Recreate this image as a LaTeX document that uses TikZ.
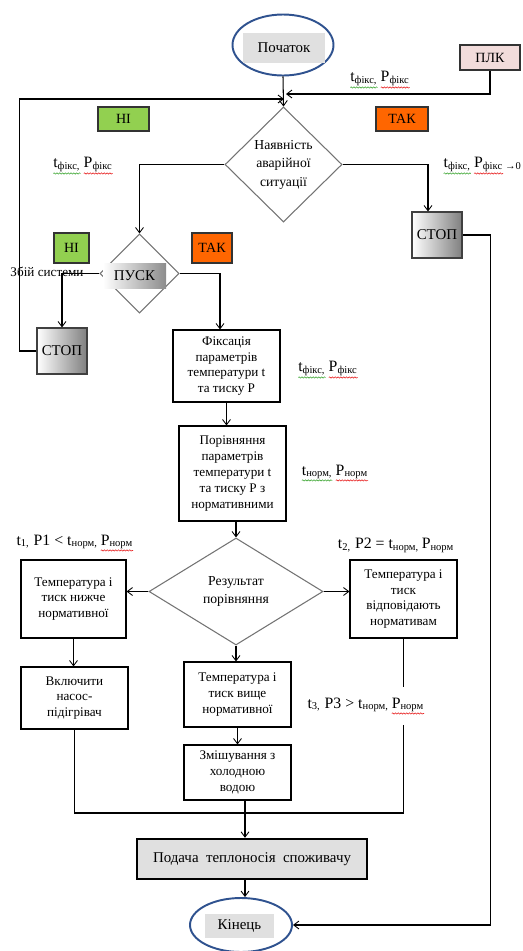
\documentclass[tikz,border=0pt]{standalone}
\usepackage{fontspec}
\setmainfont{Liberation Serif}
\usetikzlibrary{shapes.geometric,arrows.meta,decorations.pathmorphing}
\definecolor{FrameBlue}{RGB}{47,82,143}
\definecolor{NoGreen}{RGB}{146,208,80}
\definecolor{YesOrange}{RGB}{255,102,0}
\definecolor{PlcPink}{RGB}{242,220,219}
\definecolor{SpellRed}{RGB}{232,40,40}
\definecolor{SpellGreen}{RGB}{70,170,60}
\newcommand*{\boxfont}{\fontsize{7.5}{9}\selectfont}
\newcommand*{\bigfont}{\fontsize{7.8}{10.5}\selectfont}
\newcommand*{\termfont}{\fontsize{8.5}{10}\selectfont}
\newcommand*{\labfont}{\fontsize{9}{10}\selectfont}
% wavy underline of the spell checker
\newcommand*{\spell}[2]{\tikz[baseline=(sp.base)]{\node[inner sep=0pt,outer sep=0pt] (sp) {#2};
  \draw[#1,line width=0.35pt,decorate,decoration={snake,amplitude=0.35pt,segment length=1.6pt}]
    ([yshift=-0.8pt]sp.south west) -- ([yshift=-0.8pt]sp.south east);}}
\tikzset{%
  sz/.style 2 args={minimum width=#1*0.02cm, minimum height=#2*0.02cm},
  block/.style={draw, line width=0.6pt, fill=white, align=center, inner sep=0pt, font=\boxfont},
  decision/.style={diamond, draw=black!55, line width=0.6pt, fill=white, align=center, inner sep=0pt, font=\bigfont},
  stopbox/.style={draw=black!75, line width=0.6pt, left color=white, right color=black!50, inner sep=0pt, font=\termfont, sz={50}{46}},
  tag/.style={draw=black!80, line width=0.6pt, inner sep=0pt, font=\fontsize{8}{9}\selectfont},
  terminal/.style={ellipse, draw=FrameBlue, line width=1.1pt, fill=white, inner sep=0pt},
  texture/.style={fill=black!12, inner sep=0pt, font=\termfont},
  param/.style={inner sep=0pt, font=\labfont},
  flow/.style={line width=0.6pt, -{Straight Barb[length=3pt,width=4.5pt,line width=0.5pt]}},
  link/.style={line width=0.6pt}
}

\begin{document}
\begin{tikzpicture}[x=0.02cm, y=-0.02cm]
  \useasboundingbox (0,0) rectangle (523,951);
  % upper part
  \node[terminal, sz={101}{61}] (start) at (283,45) {};
  \node[texture, sz={82}{30}] (startText) at (284,48) {Початок};
  \node[tag, fill=PlcPink, sz={60}{25}] (plc) at (490,57.5) {ПЛК};
  \node[decision, sz={117}{115}] (main) at (283.5,164.5) {Наявність\\аварійної\\ситуації};
  \node[tag, fill=NoGreen, sz={51}{24}] (no1) at (123.5,119) {НІ};
  \node[tag, fill=YesOrange, sz={52}{24}] (yes1) at (402,119) {ТАК};
  \node[stopbox] (stopR) at (437,235) {СТОП};
  \node[decision, sz={79}{79}] (pusk) at (139.5,273.5) {};
  \node[inner sep=0pt, left color=white, right color=black!45, sz={63}{25}, font=\termfont] (puskText) at (134.5,275.5) {ПУСК};
  \node[tag, fill=NoGreen, sz={35}{30}] (no2) at (71.5,248) {НІ};
  \node[tag, fill=YesOrange, sz={40}{30}] (yes2) at (212,248) {ТАК};
  \node[param, font=\boxfont] (fault) at (47,272) {Збій системи};
  \node[stopbox] (stopL) at (62,351) {СТОП};
  % checking the parameters
  \node[block, sz={107}{72}] (fix) at (226.5,366) {Фіксація\\параметрів\\температури t\\та тиску P};
  \node[block, sz={107}{95}] (cmp) at (232.5,473.5) {Порівняння\\параметрів\\температури t\\та тиску P з\\нормативними};
  \node[decision, sz={174}{107}] (result) at (236,591.5) {Результат\\порівняння};
  \node[block, sz={105}{78}] (low) at (73.5,599) {Температура і\\тиск нижче\\нормативної};
  \node[block, sz={107}{78}] (ok) at (403.5,599) {Температура і\\тиск\\відповідають\\нормативам};
  \node[block, sz={107}{62}] (pump) at (74.5,698) {Включити\\насос-\\підігрівач};
  \node[block, sz={107}{65}] (high) at (237.5,694.5) {Температура і\\тиск вище\\нормативної};
  \node[block, sz={107}{55}] (mix) at (237.5,772.5) {Змішування з\\холодною\\водою};
  \node[block, line width=1.4pt, fill=black!12, sz={230}{40}, font=\termfont] (feed) at (252,859) {Подача\ \ теплоносія\ \ споживачу};
  \node[terminal, sz={102}{54}] (end) at (241,925) {};
  \node[texture, sz={69}{24}] (endText) at (239.5,926) {Кінець};
  % parameter labels
  \node[param] (labTop) at (380,80) {\spell{SpellGreen}{t\textsubscript{фікс,}}\,\spell{SpellRed}{P\textsubscript{фікс}}};
  \node[param] (labLeft) at (83,166) {\spell{SpellGreen}{t\textsubscript{фікс,}}\,\spell{SpellRed}{P\textsubscript{фікс}}};
  \node[param, anchor=west] (labRight) at (443,166) {\spell{SpellGreen}{t\textsubscript{фікс,}}\,\spell{SpellRed}{P\textsubscript{фікс}}\textsubscript{\,→0}};
  \node[param] (labFix) at (328,370) {\spell{SpellGreen}{t\textsubscript{фікс,}}\,\spell{SpellRed}{P\textsubscript{фікс}}};
  \node[param] (labNorm) at (335,473) {\spell{SpellGreen}{t\textsubscript{норм,}}\,\spell{SpellRed}{P\textsubscript{норм}}};
  \node[param] (labLow) at (75,543) {t\textsubscript{1,} P1 < t\textsubscript{норм,}\,\spell{SpellRed}{P\textsubscript{норм}}};
  \node[param] (labOk) at (396,545) {t\textsubscript{2,} P2 = t\textsubscript{норм,}\,P\textsubscript{норм}};
  \node[param, inner ysep=0.2cm] (labHigh) at (366,706) {t\textsubscript{3,} P3 > t\textsubscript{норм,}\,\spell{SpellRed}{P\textsubscript{норм}}};
  \coordinate (mergeL) at (284,99);
  \coordinate (mergeR) at (286,94);
  \coordinate (join) at (245,813);
  % connectors
  \draw[flow] (start.south) -- (main.north);
  \draw[flow] (plc.south) |- (mergeR);
  \draw[flow] (stopL.west) -- ++(-17,0) |- (mergeL);
  \draw[flow] (main.west) -| (pusk.north);
  \draw[flow] (main.east) -| ([xshift=-0.18cm]stopR.north);
  \draw[flow] (stopR.east) -- ++(28,0) |- (end.east);
  \draw[flow] (pusk.west) -| (stopL.north);
  \draw[flow] (pusk.east) -| ([xshift=-0.13cm]fix.north);
  \draw[flow] (fix.south) -- (fix.south |- cmp.north);
  \draw[flow] (result.north |- cmp.south) -- (result.north);
  \draw[flow] (result.west) -- (result.west -| low.east);
  \draw[flow] (result.east) -- (result.east -| ok.west);
  \draw[flow] (low.south) -- (low.south |- pump.north);
  \draw[flow] (result.south) -- (result.south |- high.north);
  \draw[flow] (high.south) -- (mix.north);
  \draw[link] (pump.south) |- (join);
  \draw[link] (ok.south) -- (ok.south |- labHigh.north);
  \draw[link] (ok.south |- labHigh.south) |- (join);
  \draw[flow] (join |- mix.south) -- (join |- feed.north);
  \draw[flow] (join |- feed.south) -- (join |- end.north);
\end{tikzpicture}
\end{document}
